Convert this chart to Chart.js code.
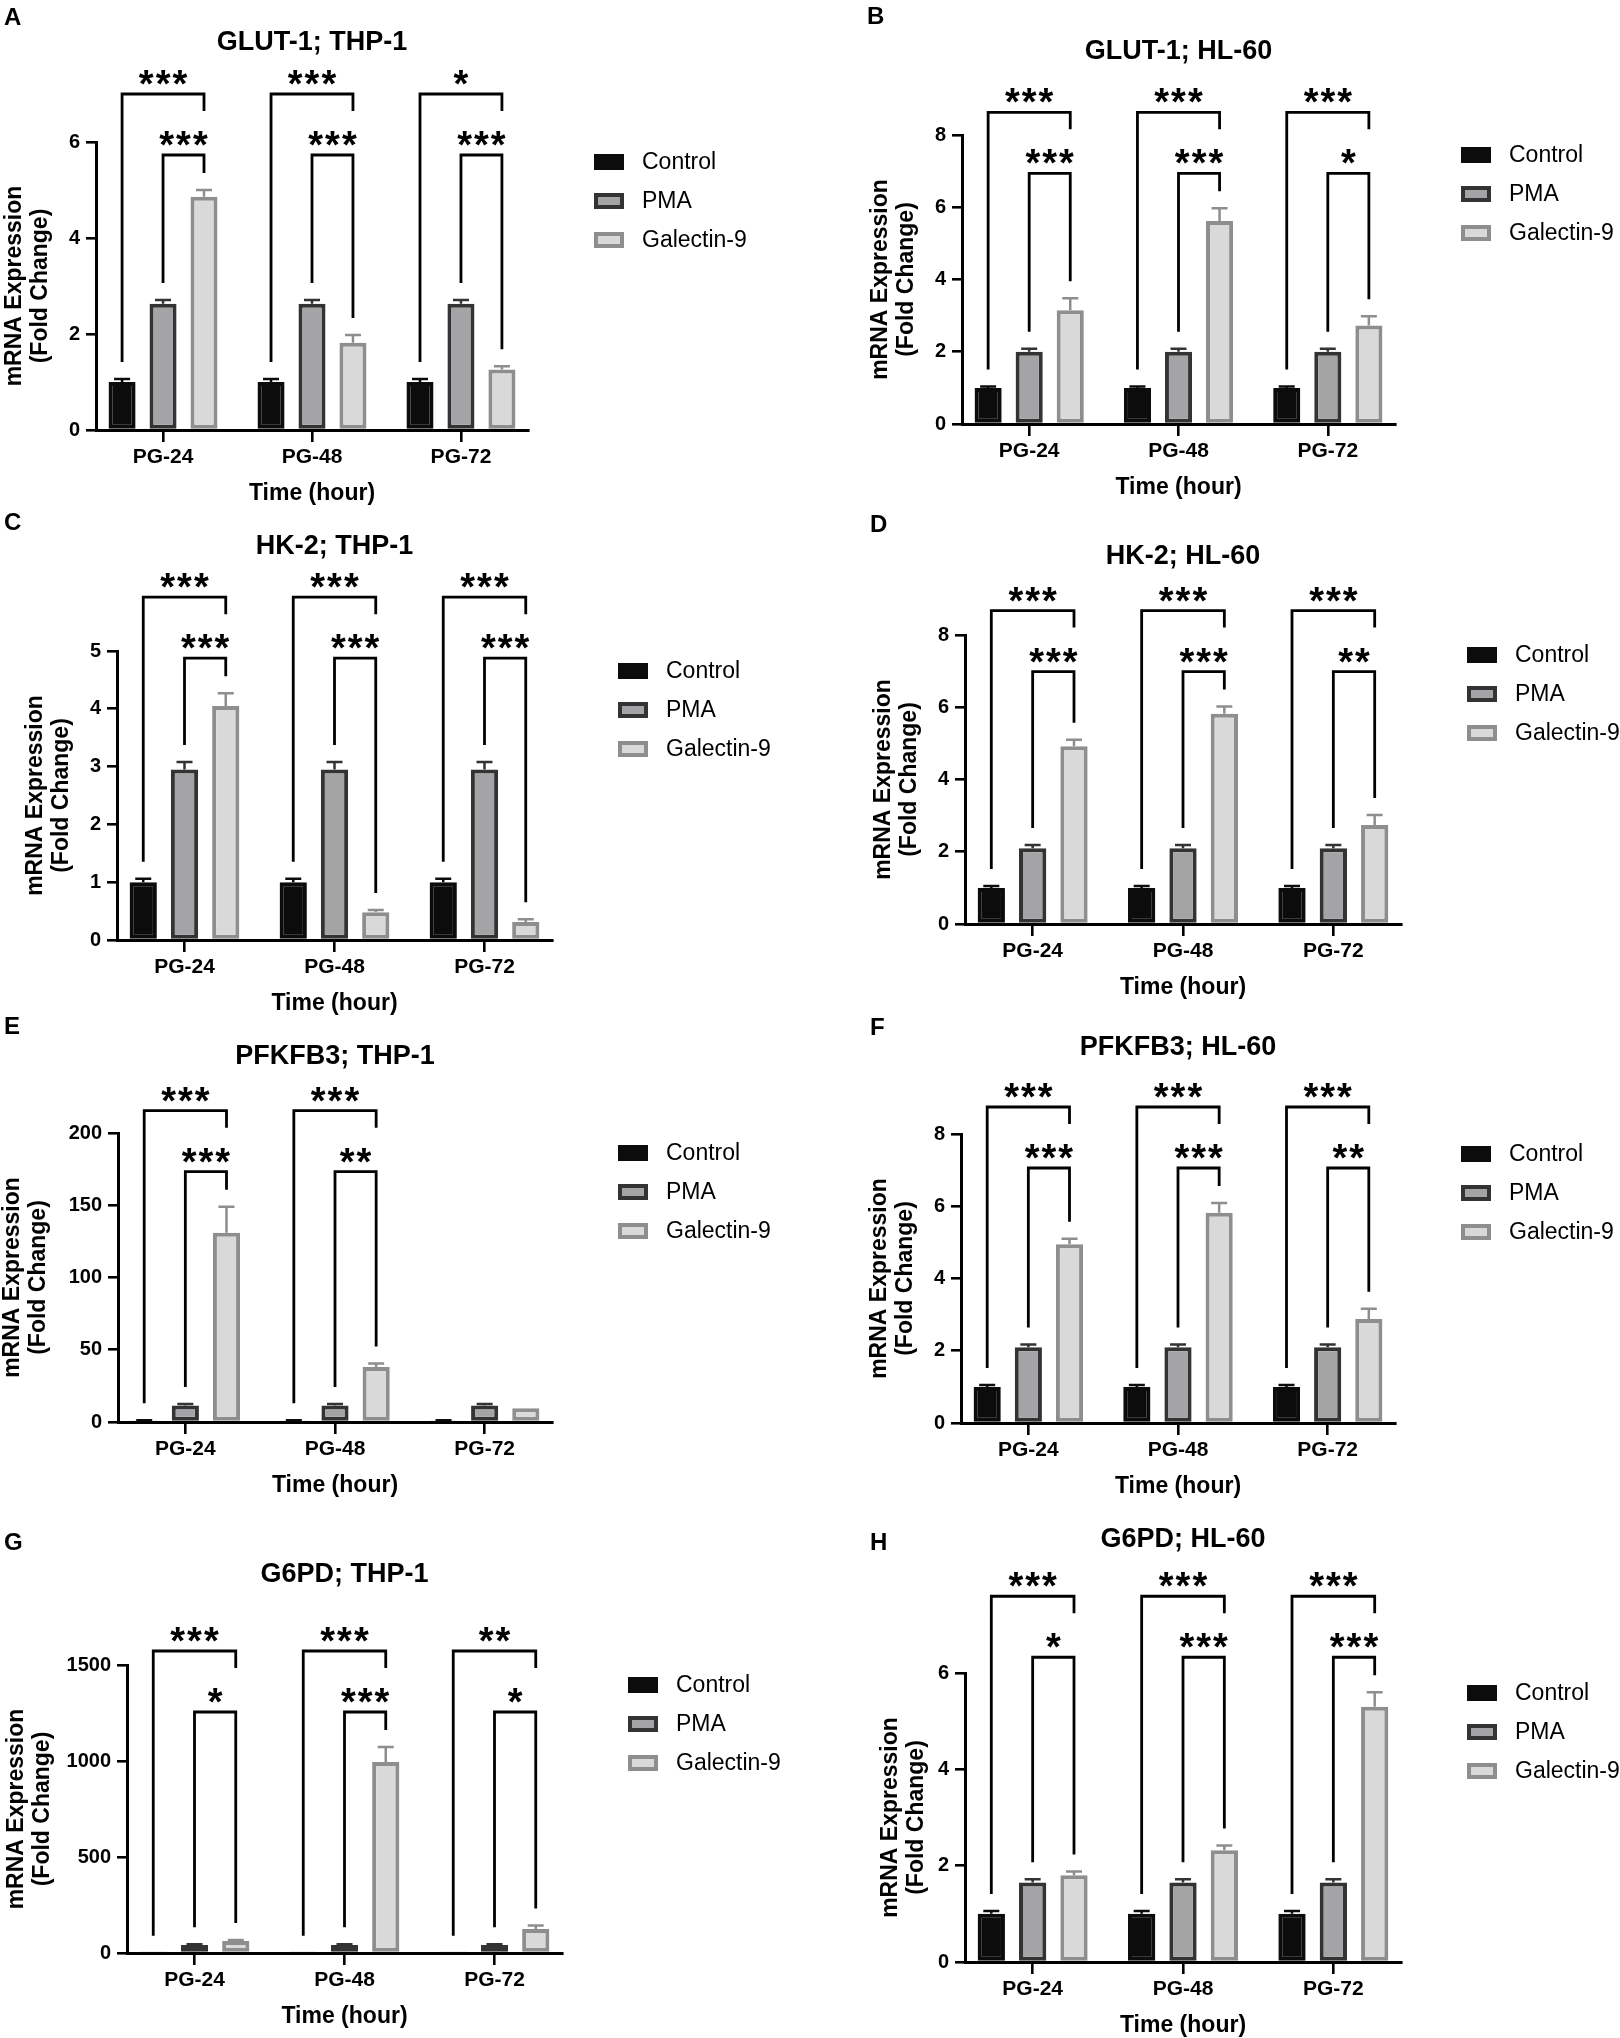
<!DOCTYPE html>
<html>
<head>
<meta charset="utf-8">
<script src="https://cdn.jsdelivr.net/npm/chart.js@4.4.1/dist/chart.umd.min.js"></script>
<style>
  body { margin: 0; background: #fff; width: 1620px; height: 2038px; position: relative; overflow: hidden; }
  canvas { position: absolute; }
</style>
</head>
<body>
<script>
// ---- data ----
var groups = ['PG-24', 'PG-48', 'PG-72'];
var seriesNames = ['Control', 'PMA', 'Galectin-9'];

// A  GLUT-1; THP-1
var glutThpCtrl = [1.00, 1.00, 1.00], glutThpCtrlSd = [0.06, 0.06, 0.06];
var glutThpPma = [2.63, 2.63, 2.63], glutThpPmaSd = [0.08, 0.08, 0.08];
var glutThpGal = [4.86, 1.82, 1.26], glutThpGalSd = [0.14, 0.16, 0.07];
var glutThpOuter = ['***', '***', '*'], glutThpInner = ['***', '***', '***'];
var glutThpTicks = [0, 2, 4, 6];

// B  GLUT-1; HL-60
var glutHlCtrl = [1.00, 1.00, 1.00], glutHlCtrlSd = [0.04, 0.04, 0.04];
var glutHlPma = [2.00, 2.00, 2.00], glutHlPmaSd = [0.08, 0.08, 0.08];
var glutHlGal = [3.15, 5.62, 2.73], glutHlGalSd = [0.33, 0.35, 0.25];
var glutHlOuter = ['***', '***', '***'], glutHlInner = ['***', '***', '*'];
var glutHlTicks = [0, 2, 4, 6, 8];

// C  HK-2; THP-1
var hkThpCtrl = [1.00, 1.00, 1.00], hkThpCtrlSd = [0.06, 0.06, 0.06];
var hkThpPma = [2.95, 2.95, 2.95], hkThpPmaSd = [0.13, 0.13, 0.13];
var hkThpGal = [4.05, 0.48, 0.31], hkThpGalSd = [0.22, 0.04, 0.05];
var hkThpOuter = ['***', '***', '***'], hkThpInner = ['***', '***', '***'];
var hkThpTicks = [0, 1, 2, 3, 4, 5];

// D  HK-2; HL-60
var hkHlCtrl = [1.00, 1.00, 1.00], hkHlCtrlSd = [0.05, 0.05, 0.05];
var hkHlPma = [2.10, 2.10, 2.10], hkHlPmaSd = [0.09, 0.09, 0.09];
var hkHlGal = [4.92, 5.82, 2.74], hkHlGalSd = [0.18, 0.20, 0.28];
var hkHlOuter = ['***', '***', '***'], hkHlInner = ['***', '***', '**'];
var hkHlTicks = [0, 2, 4, 6, 8];

// E  PFKFB3; THP-1
var pfkThpCtrl = [1.0, 1.0, 1.0], pfkThpCtrlSd = [0.2, 0.2, 0.2];
var pfkThpPma = [11.5, 11.5, 11.5], pfkThpPmaSd = [1.0, 1.0, 1.0];
var pfkThpGal = [131, 38, 9.5], pfkThpGalSd = [18, 2.5, 0];
var pfkThpOuter = ['***', '***', null], pfkThpInner = ['***', '**', null];
var pfkThpTicks = [0, 50, 100, 150, 200];

// F  PFKFB3; HL-60
var pfkHlCtrl = [1.00, 1.00, 1.00], pfkHlCtrlSd = [0.05, 0.05, 0.05];
var pfkHlPma = [2.10, 2.10, 2.10], pfkHlPmaSd = [0.07, 0.07, 0.07];
var pfkHlGal = [4.95, 5.82, 2.88], pfkHlGalSd = [0.15, 0.27, 0.28];
var pfkHlOuter = ['***', '***', '***'], pfkHlInner = ['***', '***', '**'];
var pfkHlTicks = [0, 2, 4, 6, 8];

// G  G6PD; THP-1
var g6pdThpCtrl = [1, 1, 1], g6pdThpCtrlSd = [0, 0, 0];
var g6pdThpPma = [42, 42, 42], g6pdThpPmaSd = [4, 4, 4];
var g6pdThpGal = [63, 995, 125], g6pdThpGalSd = [5, 78, 18];
var g6pdThpOuter = ['***', '***', '**'], g6pdThpInner = ['*', '***', '*'];
var g6pdThpTicks = [0, 500, 1000, 1500];

// H  G6PD; HL-60
var g6pdHlCtrl = [1.00, 1.00, 1.00], g6pdHlCtrlSd = [0.06, 0.06, 0.06];
var g6pdHlPma = [1.65, 1.65, 1.65], g6pdHlPmaSd = [0.07, 0.07, 0.07];
var g6pdHlGal = [1.80, 2.32, 5.30], g6pdHlGalSd = [0.08, 0.10, 0.30];
var g6pdHlOuter = ['***', '***', '***'], g6pdHlInner = ['*', '***', '***'];
var g6pdHlTicks = [0, 2, 4, 6];

// ---- panels: data + where each plot sits on the page ----
var panels = [
  { letter: 'A', title: 'GLUT-1; THP-1', vals: [glutThpCtrl, glutThpPma, glutThpGal], sds: [glutThpCtrlSd, glutThpPmaSd, glutThpGalSd], outer: glutThpOuter, inner: glutThpInner, ticks: glutThpTicks,
    box: [96, 142, 528, 430], yTitleW: 95, titleY: 43, letterAt: [4, 25] },
  { letter: 'B', title: 'GLUT-1; HL-60', vals: [glutHlCtrl, glutHlPma, glutHlGal], sds: [glutHlCtrlSd, glutHlPmaSd, glutHlGalSd], outer: glutHlOuter, inner: glutHlInner, ticks: glutHlTicks,
    box: [962, 135, 1395, 424], yTitleW: 95, titleY: 52, letterAt: [867, 24] },
  { letter: 'C', title: 'HK-2; THP-1', vals: [hkThpCtrl, hkThpPma, hkThpGal], sds: [hkThpCtrlSd, hkThpPmaSd, hkThpGalSd], outer: hkThpOuter, inner: hkThpInner, ticks: hkThpTicks,
    box: [117, 651, 552, 940], yTitleW: 95, titleY: 547, letterAt: [4, 530] },
  { letter: 'D', title: 'HK-2; HL-60', vals: [hkHlCtrl, hkHlPma, hkHlGal], sds: [hkHlCtrlSd, hkHlPmaSd, hkHlGalSd], outer: hkHlOuter, inner: hkHlInner, ticks: hkHlTicks,
    box: [965, 635, 1401, 924], yTitleW: 95, titleY: 557, letterAt: [870, 532] },
  { letter: 'E', title: 'PFKFB3; THP-1', vals: [pfkThpCtrl, pfkThpPma, pfkThpGal], sds: [pfkThpCtrlSd, pfkThpPmaSd, pfkThpGalSd], outer: pfkThpOuter, inner: pfkThpInner, ticks: pfkThpTicks,
    box: [118, 1133, 552, 1422], yTitleW: 119, titleY: 1057, letterAt: [4, 1034] },
  { letter: 'F', title: 'PFKFB3; HL-60', vals: [pfkHlCtrl, pfkHlPma, pfkHlGal], sds: [pfkHlCtrlSd, pfkHlPmaSd, pfkHlGalSd], outer: pfkHlOuter, inner: pfkHlInner, ticks: pfkHlTicks,
    box: [961, 1134, 1395, 1423], yTitleW: 95, titleY: 1048, letterAt: [870, 1035] },
  { letter: 'G', title: 'G6PD; THP-1', vals: [g6pdThpCtrl, g6pdThpPma, g6pdThpGal], sds: [g6pdThpCtrlSd, g6pdThpPmaSd, g6pdThpGalSd], outer: g6pdThpOuter, inner: g6pdThpInner, ticks: g6pdThpTicks,
    box: [127, 1665, 562, 1953], yTitleW: 124, titleY: 1575, letterAt: [4, 1550] },
  { letter: 'H', title: 'G6PD; HL-60', vals: [g6pdHlCtrl, g6pdHlPma, g6pdHlGal], sds: [g6pdHlCtrlSd, g6pdHlPmaSd, g6pdHlGalSd], outer: g6pdHlOuter, inner: g6pdHlInner, ticks: g6pdHlTicks,
    box: [965, 1673, 1401, 1962], yTitleW: 88, titleY: 1540, letterAt: [870, 1550] }
];

var FONT = "'Liberation Sans', Arial, Helvetica, sans-serif";
var fills = ['#0c0c0c', '#a4a4a6', '#d9d9d9'];
var edges = ['#0c0c0c', '#333333', '#8e8e8e'];

Chart.defaults.font.family = FONT;
Chart.defaults.color = '#000';

// GraphPad leaves a little less than half a step at each end of the x axis
class TightCategory extends Chart.CategoryScale {
  configure() {
    super.configure();
    this._startValue = this.min - 0.45;
    this._valueRange = this.max - this.min + 0.9;
  }
}
TightCategory.id = 'tightCategory';
Chart.register(TightCategory);

function decor(p, cx, cy) {
  return {
    id: 'decor' + p.letter,
    afterDatasetsDraw: function(chart) {
      var ctx = chart.ctx, ys = chart.scales.y, area = chart.chartArea;
      var sets = chart.data.datasets;
      function errTop(i, j) { return ys.getPixelForValue(sets[i].data[j] + sets[i].sd[j]); }
      function barX(i, j) { return chart.getDatasetMeta(i).data[j].x; }

      ctx.save();
      // error bars (upper half only)
      ctx.lineWidth = 2.5;
      sets.forEach(function(ds, i) {
        chart.getDatasetMeta(i).data.forEach(function(bar, j) {
          if (!ds.sd[j]) return;
          var t = errTop(i, j);
          ctx.strokeStyle = ds.borderColor;
          ctx.beginPath();
          ctx.moveTo(bar.x, bar.y); ctx.lineTo(bar.x, t);
          ctx.moveTo(bar.x - 8, t); ctx.lineTo(bar.x + 8, t);
          ctx.stroke();
        });
      });

      // significance brackets
      var highest = area.bottom;
      sets.forEach(function(ds, i) {
        ds.data.forEach(function(v, j) { highest = Math.min(highest, errTop(i, j)); });
      });
      var innerY = highest - 35, outerY = innerY - 61;
      ctx.strokeStyle = '#000';
      ctx.lineWidth = 2.8;
      ctx.lineJoin = 'miter';
      ctx.fillStyle = '#000';
      ctx.font = 'bold 38px ' + FONT;
      ctx.textAlign = 'center';
      ctx.textBaseline = 'alphabetic';
      ctx.letterSpacing = '2px';
      for (var j = 0; j < groups.length; j++) {
        var xc = barX(0, j), xp = barX(1, j), xg = barX(2, j);
        if (p.outer[j]) {
          ctx.beginPath();
          ctx.moveTo(xc, errTop(0, j) - 17);
          ctx.lineTo(xc, outerY); ctx.lineTo(xg, outerY); ctx.lineTo(xg, innerY - 44);
          ctx.stroke();
          ctx.fillText(p.outer[j], (xc + xg) / 2 + 1, outerY + 3);
        }
        if (p.inner[j]) {
          ctx.beginPath();
          ctx.moveTo(xp, errTop(1, j) - 17);
          ctx.lineTo(xp, innerY); ctx.lineTo(xg, innerY); ctx.lineTo(xg, errTop(2, j) - 17);
          ctx.stroke();
          ctx.fillText(p.inner[j], (xp + xg) / 2 + 1, innerY + 3);
        }
      }
      ctx.letterSpacing = '0px';

      // legend
      var lx = area.right + 66, ly = area.top + 20;
      ctx.textAlign = 'left';
      ctx.textBaseline = 'middle';
      ctx.font = '23px ' + FONT;
      sets.forEach(function(ds, i) {
        var y = ly + 39 * i;
        ctx.fillStyle = ds.borderColor;
        ctx.fillRect(lx, y - 8, 30, 16);
        ctx.fillStyle = ds.backgroundColor;
        ctx.fillRect(lx + 4, y - 4, 22, 8);
        ctx.fillStyle = '#000';
        ctx.fillText(ds.label, lx + 48, y + 1);
      });

      // title and panel letter
      ctx.textAlign = 'center';
      ctx.font = 'bold 27px ' + FONT;
      ctx.fillText(p.title, (area.left + area.right) / 2, p.titleY - cy);
      ctx.textAlign = 'left';
      ctx.textBaseline = 'alphabetic';
      ctx.font = 'bold 24px ' + FONT;
      ctx.fillText(p.letter, p.letterAt[0] - cx, p.letterAt[1] - cy);
      ctx.restore();
    }
  };
}

panels.forEach(function(p) {
  var cx = p.box[0] < 810 ? -30 : 800;
  var cy = p.box[1] - 150;
  var plotH = p.box[3] - p.box[1];
  var cw = 840, ch = 150 + plotH + 95;
  if (cx + cw > 1620) cw = 1620 - cx;

  var cv = document.createElement('canvas');
  cv.width = cw; cv.height = ch;
  cv.style.left = cx + 'px'; cv.style.top = cy + 'px';
  cv.style.width = cw + 'px'; cv.style.height = ch + 'px';
  document.body.appendChild(cv);

  var datasets = seriesNames.map(function(name, i) {
    return {
      label: name,
      data: p.vals[i],
      sd: p.sds[i],
      backgroundColor: fills[i],
      borderColor: edges[i],
      borderWidth: 4,
      borderSkipped: false,
      barPercentage: 0.66,
      categoryPercentage: 0.825
    };
  });

  new Chart(cv, {
    type: 'bar',
    data: { labels: groups, datasets: datasets },
    options: {
      responsive: false,
      animation: false,
      devicePixelRatio: 1,
      layout: { padding: { left: p.box[0] - cx - p.yTitleW, top: 150, right: cx + cw - p.box[2], bottom: ch - 150 - plotH - 80 } },
      plugins: { legend: { display: false }, tooltip: { enabled: false }, title: { display: false } },
      scales: {
        x: {
          type: 'tightCategory',
          offset: true,
          grid: { drawOnChartArea: false, offset: false, tickLength: 12, lineWidth: 2.6, color: '#000' },
          border: { color: '#000', width: 3 },
          ticks: { font: { size: 21, weight: 'bold' }, padding: 3, color: '#000', maxRotation: 0, autoSkip: false },
          title: { display: true, text: 'Time (hour)', font: { size: 23, weight: 'bold' }, padding: { top: 0, bottom: 3 }, color: '#000' },
          afterFit: function(s) { s.height = 80; }
        },
        y: {
          min: p.ticks[0],
          max: p.ticks[p.ticks.length - 1],
          afterBuildTicks: function(s) { s.ticks = p.ticks.map(function(v) { return { value: v }; }); },
          ticks: { font: { size: 20, weight: 'bold' }, padding: 6, color: '#000', callback: function(v) { return String(v); } },
          grid: { drawOnChartArea: false, tickLength: 10, lineWidth: 2.6, color: '#000' },
          border: { color: '#000', width: 3 },
          title: { display: true, text: ['mRNA Expression', '(Fold Change)'], font: { size: 23, weight: 'bold', lineHeight: 26 / 23 }, padding: { top: 1, bottom: 0 }, color: '#000' },
          afterFit: function(s) { s.width = p.yTitleW; }
        }
      }
    },
    plugins: [decor(p, cx, cy)]
  });
});
</script>
</body>
</html>
